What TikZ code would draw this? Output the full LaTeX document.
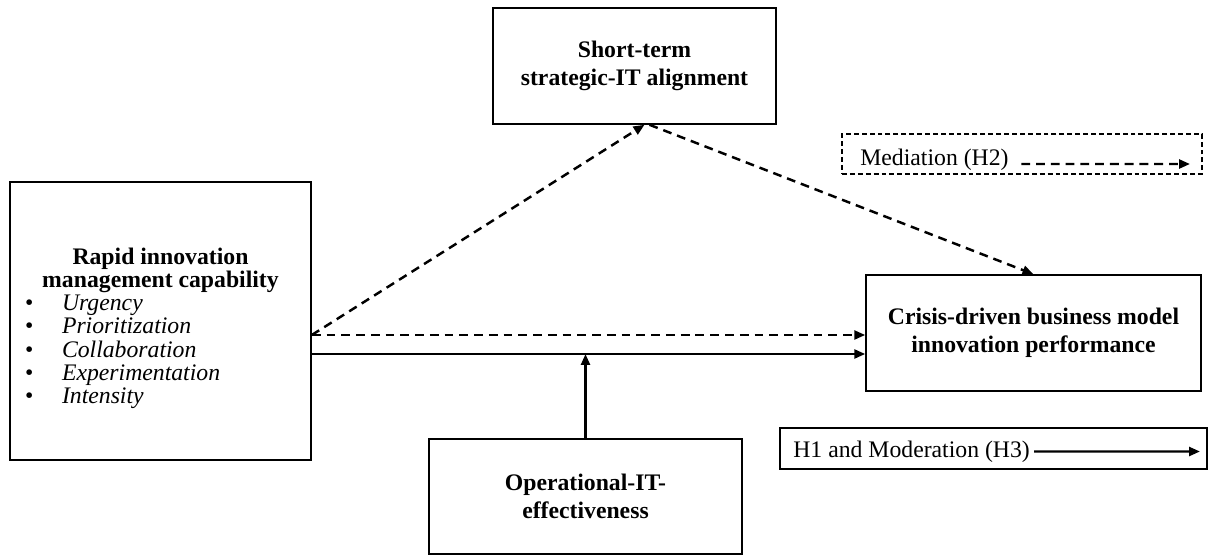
\documentclass[tikz,border=0pt]{standalone}
\usepackage{fontspec}
\setmainfont{Liberation Serif}
\usetikzlibrary{arrows.meta}

\begin{document}
\begin{tikzpicture}[x=0.02cm,y=-0.02cm,
  box/.style={draw,line width=0.9pt,inner sep=0pt,align=center,
    font=\fontsize{13.5}{16}\selectfont\bfseries},
  link/.style={line width=1.4pt,-{Triangle[length=0.22cm,width=0.18cm]}},
  medlink/.style={link,dash pattern=on 5pt off 3.4pt},
  keybox/.style={draw,line width=0.7pt,inner sep=0pt},
  keytext/.style={anchor=base west,inner sep=0pt,font=\fontsize{13.5}{16}\selectfont}]
  \useasboundingbox (0,0) rectangle (1208,555);

  %% constructs
  \node[box,minimum width=6.02cm,minimum height=5.56cm,
    font=\fontsize{13.5}{13.1}\selectfont] (rimc) at (160.5,321) {%
    \begin{minipage}{5.7cm}
      \vspace*{0.32cm}
      \centering\textbf{Rapid innovation\\management capability}\par
      \raggedright
      \begin{tabular}{@{}p{0.88cm}@{}l@{}}
        \hspace*{0.14cm}\textbullet & \textit{Urgency}\\
        \hspace*{0.14cm}\textbullet & \textit{Prioritization}\\
        \hspace*{0.14cm}\textbullet & \textit{Collaboration}\\
        \hspace*{0.14cm}\textbullet & \textit{Experimentation}\\
        \hspace*{0.14cm}\textbullet & \textit{Intensity}
      \end{tabular}
    \end{minipage}};
  \node[box,minimum width=5.66cm,minimum height=2.32cm] (stia) at (634.5,66)
    {Short-term\\strategic-IT alignment};
  \node[box,minimum width=6.7cm,minimum height=2.32cm] (cdbm) at (1033.5,333)
    {Crisis-driven business model\\innovation performance};
  \node[box,minimum width=6.26cm,minimum height=2.3cm] (oite) at (585.5,496.5)
    {Operational-IT-\\effectiveness};

  %% paths
  \coordinate (medstart) at ([yshift=-0.28cm]rimc.east);
  \coordinate (mainstart) at ([yshift=-0.66cm]rimc.east);
  \draw[medlink] (medstart) -- ([xshift=0.2cm]stia.south);
  \draw[medlink] ([xshift=0.3cm]stia.south) -- (cdbm.north);
  \draw[medlink] (medstart) -- (medstart -| cdbm.west);
  \draw[link] (mainstart) -- (mainstart -| cdbm.west);
  \draw[link] (oite.north) -- (oite.north |- mainstart);

  %% key
  \node[keybox,dash pattern=on 2.8pt off 1.7pt,minimum width=7.2cm,
    minimum height=0.8cm] (medkey) at (1022,154) {};
  \node[keytext] (medkeytext) at (860,165.5) {Mediation (H2)};
  \coordinate (medkeyend) at (1190,164);
  \draw[medlink] ([xshift=0.25cm,yshift=0.03cm]medkeytext.base east)
    -- (medkeyend);

  \node[keybox,minimum width=8.54cm,minimum height=0.82cm] (mainkey)
    at (993.5,448.5) {};
  \node[keytext] (mainkeytext) at (793,457) {H1 and Moderation (H3)};
  \coordinate (mainkeyend) at (1200,451.5);
  \draw[link] ([xshift=0.08cm,yshift=0.11cm]mainkeytext.base east)
    -- (mainkeyend);
\end{tikzpicture}
\end{document}
